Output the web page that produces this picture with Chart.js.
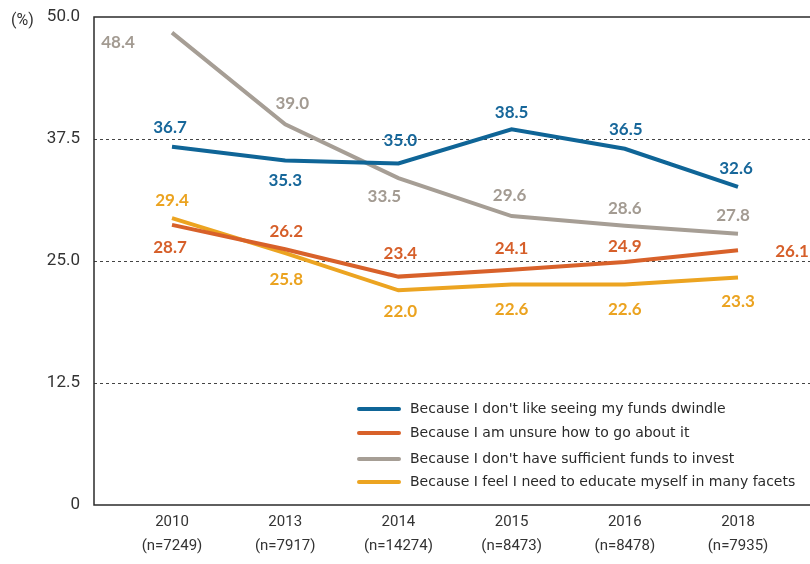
<!DOCTYPE html>
<html>
<head>
<meta charset="utf-8">
<script src="https://cdn.jsdelivr.net/npm/chart.js@4/dist/chart.umd.min.js"></script>
<style>
  html, body { margin: 0; padding: 0; background: #fff; overflow: hidden; }
  #wrap { width: 810px; height: 564px; position: relative; }
</style>
</head>
<body>
<div id="wrap"><canvas id="chart"></canvas></div>
<script>
const years = ["2010", "2013", "2014", "2015", "2016", "2018"]
const sampleSizes = ["(n=7249)", "(n=7917)", "(n=14274)", "(n=8473)", "(n=8478)", "(n=7935)"]
const yTicks = [0, 12.5, 25, 37.5, 50]

const seriesNames = [
  "Because I don't like seeing my funds dwindle",
  "Because I am unsure how to go about it",
  "Because I don't have sufficient funds to invest",
  "Because I feel I need to educate myself in many facets",
]
const dwindle = [36.7, 35.3, 35.0, 38.5, 36.5, 32.6]
const unsure = [28.7, 26.2, 23.4, 24.1, 24.9, 26.1]
const noFunds = [48.4, 39.0, 33.5, 29.6, 28.6, 27.8]
const educate = [29.4, 25.8, 22.0, 22.6, 22.6, 23.3]

// styling
const lineColors = ["#0f6597", "#d8612a", "#a69e95", "#eca421"]
const labelColors = ["#17679a", "#d65f2a", "#a39b92", "#eba320"]
// label offsets [dx, dy] from each point
const labelOffsets = [
  [[-2, -19], [0, 20], [2, -23], [0, -17], [1, -19], [-2, -18]],
  [[-2, 23], [1, -18], [2, -23], [0, -21], [0, -15], [54, 1]],
  [[-54, 10], [7, -21], [-14, 18], [-2, -21], [0, -17], [-5, -18]],
  [[0, -18], [1, 26], [2, 21], [0, 25], [0, 25], [0, 24]],
]

const toPoints = (arr) => arr.map((v, i) => ({ x: i, y: v }))
const allSeries = [dwindle, unsure, noFunds, educate]

const frameAndLabels = {
  id: "frameAndLabels",
  beforeDatasetsDraw(chart) {
    const { ctx, chartArea: a } = chart
    ctx.save()
    ctx.strokeStyle = "#2b2b2b"
    ctx.lineWidth = 1.5
    ctx.beginPath()
    ctx.moveTo(a.right + 2, a.top)
    ctx.lineTo(a.left, a.top)
    ctx.lineTo(a.left, a.bottom)
    ctx.lineTo(a.right + 2, a.bottom)
    ctx.stroke()
    ctx.fillStyle = "#333"
    ctx.font = "16px Roboto"
    ctx.textAlign = "left"
    ctx.textBaseline = "middle"
    ctx.fillText("(%)", 11, 21)
    ctx.restore()
  },
  afterDatasetsDraw(chart) {
    const { ctx } = chart
    ctx.save()
    ctx.font = "bold 17px Lato"
    ctx.textAlign = "center"
    ctx.textBaseline = "middle"
    chart.data.datasets.forEach((ds, di) => {
      const meta = chart.getDatasetMeta(di)
      meta.data.forEach((pt, i) => {
        const [dx, dy] = labelOffsets[di][i]
        ctx.fillStyle = labelColors[di]
        ctx.fillText(ds.data[i].y.toFixed(1), pt.x + dx, pt.y + dy)
      })
    })
    // legend
    ctx.font = "14px 'DejaVu Sans'"
    ctx.textAlign = "left"
    ctx.lineCap = "round"
    const rows = [409, 433, 459, 482]
    seriesNames.forEach((name, i) => {
      ctx.strokeStyle = lineColors[i]
      ctx.lineWidth = 4
      ctx.beginPath()
      ctx.moveTo(359, rows[i])
      ctx.lineTo(399, rows[i])
      ctx.stroke()
      ctx.fillStyle = "#2a2a2a"
      ctx.fillText(name, 410, rows[i])
    })
    ctx.restore()
  },
}

new Chart(document.getElementById("chart"), {
  type: "line",
  data: {
    datasets: allSeries.map((arr, i) => ({
      label: seriesNames[i],
      data: toPoints(arr),
      borderColor: lineColors[i],
      borderWidth: 4,
      pointRadius: 0,
      tension: 0,
      fill: false,
    })),
  },
  options: {
    responsive: true,
    maintainAspectRatio: false,
    animation: false,
    layout: { padding: { top: 17, left: 0, right: 0, bottom: 0 } },
    plugins: {
      legend: { display: false },
      tooltip: { enabled: false },
    },
    scales: {
      x: {
        type: "linear",
        min: -0.689,
        max: 5.636,
        afterBuildTicks: (scale) => {
          scale.ticks = years.map((_, i) => ({ value: i }))
        },
        afterFit: (scale) => { scale.height = 59 },
        grid: { display: false, drawTicks: false },
        border: { display: false },
        ticks: {
          padding: 5,
          color: "#333",
          font: { family: "Roboto", size: 15, lineHeight: 1.6 },
          maxRotation: 0,
          autoSkip: false,
          callback: (v) => [years[v], sampleSizes[v]],
        },
      },
      y: {
        min: 0,
        max: 50,
        afterBuildTicks: (scale) => {
          scale.ticks = yTicks.map((v) => ({ value: v }))
        },
        afterFit: (scale) => {
          scale.width = 94
          scale.paddingTop = 0
          scale.paddingBottom = 0
        },
        grid: {
          drawTicks: false,
          lineWidth: 1,
          color: (c) => (c.tick && c.tick.value > 0 && c.tick.value < 50 ? "#444" : "transparent"),
        },
        border: { display: false, dash: [3, 3] },
        ticks: {
          padding: 14,
          color: "#333",
          font: { family: "Roboto", size: 17 },
          callback: (v) => (v === 0 ? "0" : v.toFixed(1)),
        },
      },
    },
  },
  plugins: [frameAndLabels],
})
</script>
</body>
</html>
